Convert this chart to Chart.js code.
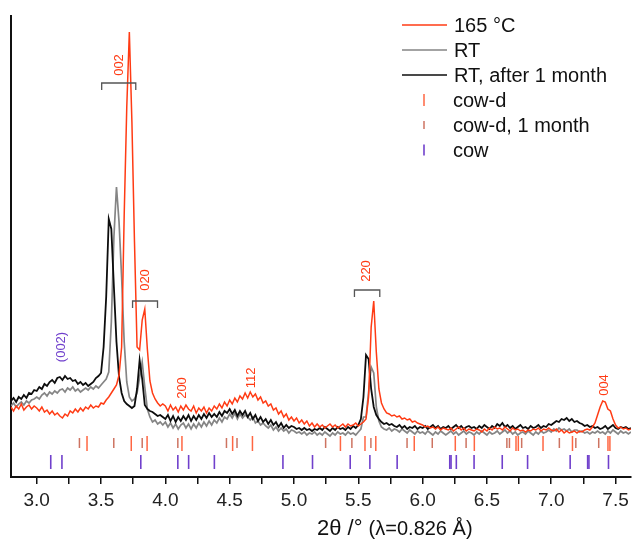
<!DOCTYPE html>
<html>
<head>
<meta charset="utf-8">
<script src="https://cdn.jsdelivr.net/npm/chart.js@4.4.1/dist/chart.umd.min.js"></script>
<style>
  html, body { margin: 0; padding: 0; background: #fff; }
  canvas { display: block; }
</style>
</head>
<body>
<canvas id="xrdChart" width="640" height="541"></canvas>
<script>
// 2theta sampling (deg)
const twoTheta = [
  2.80, 2.82, 2.84, 2.86, 2.88, 2.90, 2.92, 2.94, 2.96, 2.98,
  3.00, 3.02, 3.04, 3.06, 3.08, 3.10, 3.12, 3.14, 3.16, 3.18,
  3.20, 3.22, 3.24, 3.26, 3.28, 3.30, 3.32, 3.34, 3.36, 3.38,
  3.40, 3.42, 3.44, 3.46, 3.48, 3.50, 3.52, 3.54, 3.56, 3.58,
  3.60, 3.62, 3.64, 3.66, 3.68, 3.70, 3.72, 3.74, 3.76, 3.78,
  3.80, 3.82, 3.84, 3.86, 3.88, 3.90, 3.92, 3.94, 3.96, 3.98,
  4.00, 4.02, 4.04, 4.06, 4.08, 4.10, 4.12, 4.14, 4.16, 4.18,
  4.20, 4.22, 4.24, 4.26, 4.28, 4.30, 4.32, 4.34, 4.36, 4.38,
  4.40, 4.42, 4.44, 4.46, 4.48, 4.50, 4.52, 4.54, 4.56, 4.58,
  4.60, 4.62, 4.64, 4.66, 4.68, 4.70, 4.72, 4.74, 4.76, 4.78,
  4.80, 4.82, 4.84, 4.86, 4.88, 4.90, 4.92, 4.94, 4.96, 4.98,
  5.00, 5.02, 5.04, 5.06, 5.08, 5.10, 5.12, 5.14, 5.16, 5.18,
  5.20, 5.22, 5.24, 5.26, 5.28, 5.30, 5.32, 5.34, 5.36, 5.38,
  5.40, 5.42, 5.44, 5.46, 5.48, 5.50, 5.52, 5.54, 5.56, 5.58,
  5.60, 5.62, 5.64, 5.66, 5.68, 5.70, 5.72, 5.74, 5.76, 5.78,
  5.80, 5.82, 5.84, 5.86, 5.88, 5.90, 5.92, 5.94, 5.96, 5.98,
  6.00, 6.02, 6.04, 6.06, 6.08, 6.10, 6.12, 6.14, 6.16, 6.18,
  6.20, 6.22, 6.24, 6.26, 6.28, 6.30, 6.32, 6.34, 6.36, 6.38,
  6.40, 6.42, 6.44, 6.46, 6.48, 6.50, 6.52, 6.54, 6.56, 6.58,
  6.60, 6.62, 6.64, 6.66, 6.68, 6.70, 6.72, 6.74, 6.76, 6.78,
  6.80, 6.82, 6.84, 6.86, 6.88, 6.90, 6.92, 6.94, 6.96, 6.98,
  7.00, 7.02, 7.04, 7.06, 7.08, 7.10, 7.12, 7.14, 7.16, 7.18,
  7.20, 7.22, 7.24, 7.26, 7.28, 7.30, 7.32, 7.34, 7.36, 7.38,
  7.40, 7.42, 7.44, 7.46, 7.48, 7.50, 7.52, 7.54, 7.56, 7.58,
  7.60, 7.62
];

// intensities (arb. units)
const heated165 = [
  70, 66, 71, 68, 73, 67, 70, 72, 68, 71,
  69, 66, 70, 65, 67, 63, 66, 62, 64, 61,
  59, 63, 61, 66, 64, 68, 65, 69, 66, 70,
  68, 72, 69, 71, 70, 74, 73, 77, 80, 84,
  88, 92, 102, 130, 262, 370, 445, 355, 235, 130,
  127, 157, 168, 128, 96, 84, 78, 74, 71, 73,
  71, 66, 72, 67, 70, 65, 71, 67, 72, 68,
  66, 71, 64, 69, 66, 70, 64, 69, 66, 71,
  68, 73, 69, 75, 71, 77, 73, 79, 75, 81,
  78, 84, 79, 85, 80, 83, 77, 80, 74, 76,
  71, 73, 67, 69, 63, 66, 60, 63, 57, 60,
  56, 59, 54, 57, 53, 56, 51, 54, 50, 53,
  50, 52, 49, 51, 53, 50, 52, 49, 51, 53,
  50, 53, 51, 52, 54, 51, 53, 55, 58, 80,
  150, 176, 125, 88, 74, 68, 64, 63, 61, 62,
  60, 61, 58, 59, 57, 58, 55, 56, 54, 53,
  52, 50, 51, 49, 50, 48, 50, 47, 49, 48,
  47, 49, 46, 48, 50, 47, 49, 46, 48, 47,
  46, 48, 47, 45, 48, 46, 49, 47, 50, 48,
  49, 47, 50, 48, 46, 49, 47, 48, 46, 47,
  45, 47, 46, 48, 47, 49, 46, 48, 47, 49,
  47, 46, 48, 45, 47, 44, 46, 44, 45, 46,
  44, 46, 45, 47, 48, 47, 50, 54, 62, 70,
  76, 75, 68, 66, 58, 52, 49, 50, 48, 49,
  47, 48
];

const roomTemp = [
  71, 74, 70, 73, 75, 72, 76, 74, 77, 78,
  80, 78, 82, 84, 81, 85, 83, 86, 84, 87,
  88, 85, 89, 87, 90, 86, 88, 85, 87, 89,
  87, 90, 88, 91, 89, 92, 95, 98, 105, 155,
  240, 290, 255, 200, 135, 95, 80, 76, 78, 84,
  100, 115, 90, 68, 60, 55, 57, 53, 55, 52,
  55, 50, 54, 49, 53, 48, 52, 54, 49, 53,
  48, 53, 49, 54, 50, 55, 51, 56, 52, 57,
  54, 59, 55, 60, 58, 63, 59, 64, 58, 63,
  59, 62, 60, 57, 60, 54, 56, 52, 54, 51,
  49, 52, 47, 50, 46, 49, 46, 48, 44, 47,
  46, 44, 45, 43, 45, 42, 44, 43, 45, 42,
  44, 42, 45, 43, 41, 44, 42, 45, 43, 44,
  42, 45, 43, 44, 42, 45, 48, 60, 60, 85,
  110, 104, 70, 56, 50, 48, 47, 49, 46, 48,
  47, 45, 48, 46, 44, 47, 45, 43, 46, 44,
  45, 43, 46, 44, 42, 45, 43, 46, 44, 42,
  44, 46, 43, 45, 42, 44, 46, 43, 45, 44,
  42, 45, 43, 46, 44, 42, 45, 43, 44, 46,
  43, 45, 47, 44, 46, 43, 45, 42, 44, 45,
  43, 46, 44, 42, 45, 43, 46, 44, 45, 47,
  45, 48, 46, 49, 47, 48, 46, 48, 45, 47,
  47, 45, 46, 44, 45, 43, 45, 44, 46, 44,
  45, 43, 46, 44, 47, 45, 43, 46, 44, 45,
  43, 45
];

const roomTempMonth = [
  76, 79, 75, 80, 78, 82, 79, 84, 83, 87,
  86, 90, 88, 93, 91, 95, 97, 94, 99, 100,
  97, 101, 98, 99, 96, 97, 93, 95, 92, 94,
  91, 93, 95, 99, 101, 104, 130, 180, 258, 248,
  190, 135, 100, 84, 76, 73, 71, 69, 71, 88,
  117, 98, 72, 68, 66, 65, 63, 61, 62, 60,
  58, 62, 56, 61, 55, 60, 56, 61, 57, 62,
  56, 61, 57, 62, 58, 63, 59, 64, 60, 63,
  60, 65, 61, 66, 64, 68, 63, 67, 61, 66,
  62, 66, 60, 64, 58, 62, 56, 60, 55, 58,
  53, 57, 52, 55, 50, 54, 49, 52, 49, 51,
  50, 48, 49, 47, 49, 47, 48, 46, 48, 47,
  49, 47, 50, 48, 46, 49, 47, 50, 48, 49,
  47, 50, 48, 51, 49, 52, 58, 80, 122, 118,
  88, 70, 62, 58, 55, 53, 54, 52, 53, 51,
  50, 52, 49, 51, 48, 50, 49, 51, 48, 50,
  49, 51, 48, 50, 52, 49, 51, 48, 50, 49,
  51, 48, 50, 52, 49, 51, 48, 50, 51, 49,
  50, 48, 51, 49, 52, 50, 48, 51, 49, 53,
  51, 54, 50, 52, 49, 51, 48, 50, 52, 49,
  50, 48, 51, 49, 50, 52, 49, 51, 50, 53,
  52, 54, 56, 55, 58, 57, 59, 56, 58, 55,
  56, 54, 53, 51, 52, 50, 51, 49, 50, 48,
  49, 51, 48, 50, 52, 49, 48, 50, 49, 50,
  48, 49
];

// calculated reflection positions (deg 2theta)
const cowDRefl = [3.391, 3.735, 3.858, 4.129, 4.523, 4.677, 5.361, 5.552, 5.636, 5.935,
  6.254, 6.402, 6.726, 6.744, 6.936, 7.165, 7.441, 7.456];
const cowDMonthRefl = [3.332, 3.599, 3.820, 4.097, 4.475, 4.557, 5.246, 5.450, 5.598, 5.879,
  6.075, 6.338, 6.655, 6.675, 6.770, 7.063, 7.191, 7.369];
const cowRefl = [3.109, 3.196, 3.809, 4.097, 4.181, 4.381, 4.914, 5.144, 5.437, 5.590,
  5.802, 6.211, 6.221, 6.262, 6.400, 6.619, 6.816, 7.147, 7.283, 7.293, 7.445];

// axis ticks
const tickValues = [3.0, 3.25, 3.5, 3.75, 4.0, 4.25, 4.5, 4.75, 5.0, 5.25, 5.5, 5.75,
  6.0, 6.25, 6.5, 6.75, 7.0, 7.25, 7.5];
const labelValues = [3.0, 3.5, 4.0, 4.5, 5.0, 5.5, 6.0, 6.5, 7.0, 7.5];
const tickLabels = ['3.0', '3.5', '4.0', '4.5', '5.0', '5.5', '6.0', '6.5', '7.0', '7.5'];

// peak labels
const peakTexts = ['002', '020', '(002)', '200', '112', '220', '004'];
const peakX = [3.641, 3.842, 3.192, 4.136, 4.672, 5.565, 7.415];
const peakY = [412, 197, 130, 89, 99, 206, 92];
const peakIsCow = [false, false, true, false, false, false, false];

// brackets joining shifted peaks
const bracketFrom = [3.505, 3.745, 5.470];
const bracketTo = [3.770, 3.939, 5.667];
const bracketY = [394, 176, 187];

const RED = '#ff3b14';
const PURPLE = '#7040cc';
const FONT = '"Liberation Sans", Arial, sans-serif';

function toPoints(ys) {
  return twoTheta.map((t, i) => ({ x: t, y: ys[i] }));
}

function sticks(pos, level) {
  return pos.map(p => ({ x: p, y: level }));
}

const peakLabelPlugin = {
  id: 'peakLabels',
  afterDatasetsDraw(chart) {
    const { ctx, scales: { x, y } } = chart;
    ctx.save();
    ctx.strokeStyle = '#555';
    ctx.lineWidth = 1.3;
    for (let i = 0; i < bracketFrom.length; i++) {
      const x1 = x.getPixelForValue(bracketFrom[i]);
      const x2 = x.getPixelForValue(bracketTo[i]);
      const yy = y.getPixelForValue(bracketY[i]);
      ctx.beginPath();
      ctx.moveTo(x1, yy + 7);
      ctx.lineTo(x1, yy);
      ctx.lineTo(x2, yy);
      ctx.lineTo(x2, yy + 7);
      ctx.stroke();
    }
    ctx.font = '13px ' + FONT;
    ctx.textAlign = 'center';
    ctx.textBaseline = 'middle';
    for (let i = 0; i < peakTexts.length; i++) {
      ctx.save();
      ctx.translate(x.getPixelForValue(peakX[i]), y.getPixelForValue(peakY[i]));
      ctx.rotate(-Math.PI / 2);
      ctx.fillStyle = peakIsCow[i] ? PURPLE : RED;
      ctx.fillText(peakTexts[i], 0, 0);
      ctx.restore();
    }
    ctx.restore();
  }
};

const legendPlugin = {
  id: 'stackedLegend',
  afterDraw(chart) {
    const ctx = chart.ctx;
    ctx.save();
    ctx.font = '20px ' + FONT;
    ctx.textBaseline = 'middle';
    chart.data.datasets.forEach((ds, i) => {
      const yy = 25 + i * 25;
      ctx.strokeStyle = ds.borderColor;
      ctx.lineWidth = ds.type === 'line' ? 1.7 : ds.borderWidth;
      ctx.beginPath();
      if (ds.type === 'line') {
        ctx.moveTo(402, yy);
        ctx.lineTo(447, yy);
      } else {
        ctx.moveTo(424, yy - ds.pointRadius * 0.8);
        ctx.lineTo(424, yy + ds.pointRadius * 0.8);
      }
      ctx.stroke();
      ctx.fillStyle = '#111';
      ctx.fillText(ds.label, ds.type === 'line' ? 454 : 453, yy + 1);
    });
    ctx.restore();
  }
};

const axisTitlePlugin = {
  id: 'axisTitle',
  afterDraw(chart) {
    const ctx = chart.ctx;
    ctx.save();
    ctx.fillStyle = '#111';
    ctx.textBaseline = 'alphabetic';
    ctx.textAlign = 'left';
    ctx.font = '22px ' + FONT;
    const main = '2\u03b8 /\u00b0 ';
    ctx.fillText(main, 317, 535);
    const w = ctx.measureText(main).width;
    ctx.font = '20px ' + FONT;
    ctx.fillText('(\u03bb=0.826 \u00c5)', 317 + w, 535);
    ctx.restore();
  }
};

new Chart(document.getElementById('xrdChart'), {
  type: 'line',
  data: {
    datasets: [
      { type: 'line', label: '165 \u00b0C', data: toPoints(heated165), borderColor: RED,
        borderWidth: 1.5, pointRadius: 0, tension: 0, order: 1 },
      { type: 'line', label: 'RT', data: toPoints(roomTemp), borderColor: '#858585',
        borderWidth: 1.7, pointRadius: 0, tension: 0, order: 3 },
      { type: 'line', label: 'RT, after 1 month', data: toPoints(roomTempMonth), borderColor: '#0d0d0d',
        borderWidth: 1.8, pointRadius: 0, tension: 0, order: 2 },
      { type: 'scatter', label: 'cow-d', data: sticks(cowDRefl, 33.5), borderColor: 'rgba(255,85,45,0.9)',
        borderWidth: 1.5, pointStyle: 'line', rotation: 90, pointRadius: 7.5, pointHoverRadius: 7.5, order: 4 },
      { type: 'scatter', label: 'cow-d, 1 month', data: sticks(cowDMonthRefl, 34), borderColor: 'rgba(200,100,80,0.9)',
        borderWidth: 1.5, pointStyle: 'line', rotation: 90, pointRadius: 5, pointHoverRadius: 5, order: 4 },
      { type: 'scatter', label: 'cow', data: sticks(cowRefl, 15), borderColor: PURPLE,
        borderWidth: 1.6, pointStyle: 'line', rotation: 90, pointRadius: 7, pointHoverRadius: 7, order: 4 }
    ]
  },
  options: {
    responsive: false,
    animation: false,
    events: [],
    layout: { padding: { left: 11, top: 16, right: 2, bottom: 0 } },
    plugins: { legend: { display: false }, tooltip: { enabled: false } },
    scales: {
      x: {
        type: 'linear',
        min: 2.80,
        max: 7.62,
        afterBuildTicks(scale) { scale.ticks = tickValues.map(v => ({ value: v })); },
        afterFit(scale) { scale.height = 64; },
        grid: { drawOnChartArea: false, drawTicks: true, tickLength: 7, color: '#111', lineWidth: 1.5 },
        border: { display: true, color: '#111', width: 2 },
        ticks: {
          autoSkip: false,
          maxRotation: 0,
          padding: 5,
          color: '#222',
          font: { family: FONT, size: 19 },
          callback(value) {
            const k = labelValues.findIndex(v => Math.abs(v - value) < 1e-6);
            return k >= 0 ? tickLabels[k] : '';
          }
        }
      },
      y: {
        min: 0,
        max: 461,
        afterFit(scale) { scale.width = 0; },
        grid: { display: false },
        border: { display: true, color: '#111', width: 2 },
        ticks: { display: false }
      }
    }
  },
  plugins: [peakLabelPlugin, legendPlugin, axisTitlePlugin]
});
</script>
</body>
</html>
